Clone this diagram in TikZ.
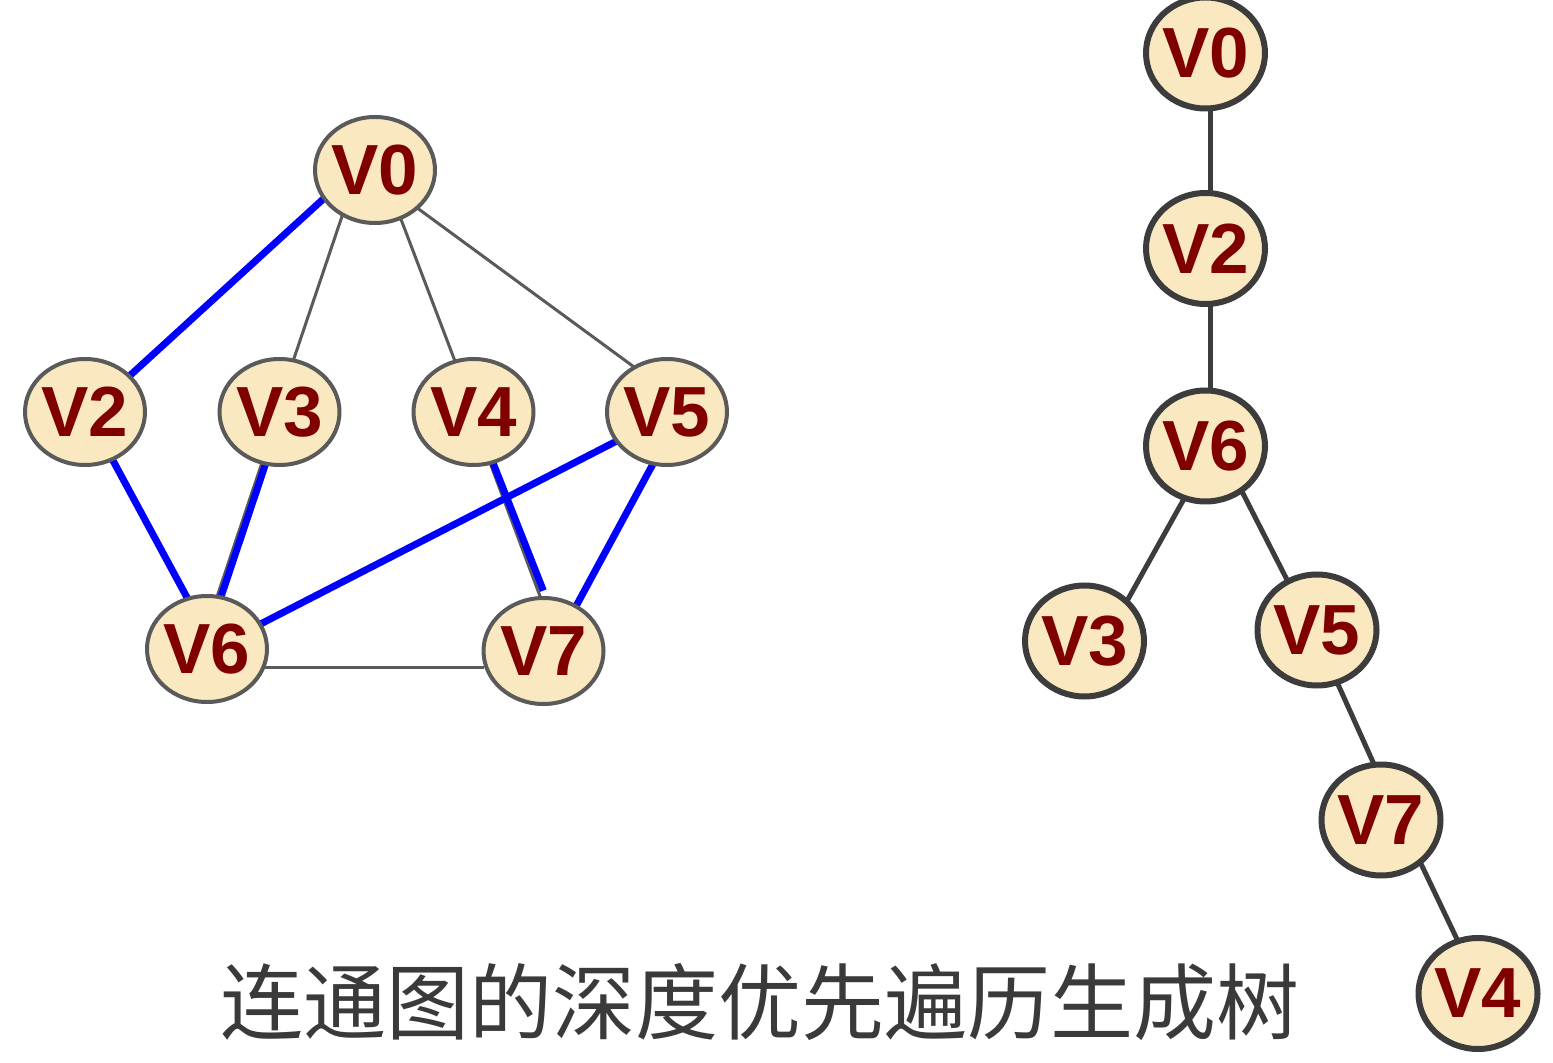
\documentclass[tikz,border=0pt]{standalone}
\usepackage{fontspec}
\newfontfamily\vfont{Liberation Sans}
\newfontfamily\cjk{Noto Sans CJK SC}
\usetikzlibrary{shapes.geometric}
\pgfdeclarelayer{bg}
\pgfsetlayers{bg,main}
\definecolor{nodefill}{HTML}{FAE8C0}
\definecolor{lborder}{HTML}{5A5A5A}
\definecolor{rborder}{HTML}{3C3C3C}
\definecolor{vtext}{HTML}{800000}
\definecolor{captext}{HTML}{3A3A3A}
\definecolor{treeblue}{HTML}{0000FF}
\tikzset{
 vbase/.style={ellipse, fill=nodefill, inner sep=0pt, outer sep=0pt, text=vtext,
   font=\vfont\bfseries\fontsize{35.5}{36}\selectfont},
 vl/.style={vbase, draw=lborder, line width=2pt, minimum width=60pt, minimum height=53pt},
 vr/.style={vbase, draw=rborder, line width=3pt, minimum width=59.5pt, minimum height=55.5pt},
 grayedge/.style={draw=lborder, line width=1.5pt},
 blueedge/.style={draw=treeblue, line width=3.5pt},
 treeedge/.style={draw=rborder, line width=2.5pt},
 caption/.style={text=captext, inner sep=0pt, font=\cjk\fontsize{41.5}{42}\selectfont},
}
\begin{document}
\begin{tikzpicture}[x=0.5pt,y=-0.5pt]
\useasboundingbox (0,0) rectangle (1553,1063);
\begin{pgfonlayer}{bg}
\fill[white] (0,0) rectangle (1553,1063);
\end{pgfonlayer}
% left graph
\node[vl] (L0) at (375,170) {\makebox[0pt]{V0}};
\node[vl] (L2) at (85,412) {\makebox[0pt]{V2}};
\node[vl] (L3) at (279.5,412) {\makebox[0pt]{V3}};
\node[vl] (L4) at (473.5,412) {\makebox[0pt]{V4}};
\node[vl] (L5) at (667,412) {\makebox[0pt]{V5}};
\node[vl] (L6) at (207,649) {\makebox[0pt]{V6}};
\node[vl] (L7) at (543.5,651) {\makebox[0pt]{V7}};
% right tree
\node[vr] (R0) at (1205.5,53) {\makebox[0pt]{V0}};
\node[vr] (R2) at (1205.5,248.5) {\makebox[0pt]{V2}};
\node[vr] (R6) at (1205.5,446) {\makebox[0pt]{V6}};
\node[vr] (R3) at (1084.5,641) {\makebox[0pt]{V3}};
\node[vr] (R5) at (1317,630) {\makebox[0pt]{V5}};
\node[vr] (R7) at (1381,820) {\makebox[0pt]{V7}};
\node[vr] (R4) at (1478,993.5) {\makebox[0pt]{V4}};
% caption
\node[caption] (cap) at (760,1002) {连通图的深度优先遍历生成树};
\begin{pgfonlayer}{bg}
% gray edges
\draw[grayedge] (L0.234.6) -- (L3.75.4);
\draw[grayedge] (L0.-62.5) -- (L4.110.3);
\draw[grayedge] (L0.-42) -- (L5.126);
\draw[grayedge] ([xshift=-2pt]L3.-105.7) -- ([xshift=-2pt]L6.75.7);
\draw[grayedge] (L4.-72) -- (L7.93);
\draw[grayedge] (L6.-18.7) -- (L7.west |- L6.-18.7);
% blue edges
\draw[blueedge] (L0.209) -- (L2.39);
\draw[blueedge] (L2.-60) -- (L6.111);
\draw[blueedge] (L3.-105.7) -- (L6.75.7);
\draw[blueedge] (L5.210) -- (L6.25.7);
\draw[blueedge, shorten >=4pt] (L4.-69.6) -- (L7.87);
\draw[blueedge] (L5.-105.8) -- (L7.54.8);
% tree edges
\draw[treeedge] ([xshift=2.25pt]R0.south) -- ([xshift=2.25pt]R2.north);
\draw[treeedge] ([xshift=2.25pt]R2.south) -- ([xshift=2.25pt]R6.north);
\draw[treeedge] (R6.-112.5) -- (R3.43.6);
\draw[treeedge] (R6.-51.8) -- (R5.121.6);
\draw[treeedge] (R5.-69) -- (R7.97);
\draw[treeedge] (R7.-47) -- (R4.111);
\end{pgfonlayer}
\end{tikzpicture}
\end{document}
